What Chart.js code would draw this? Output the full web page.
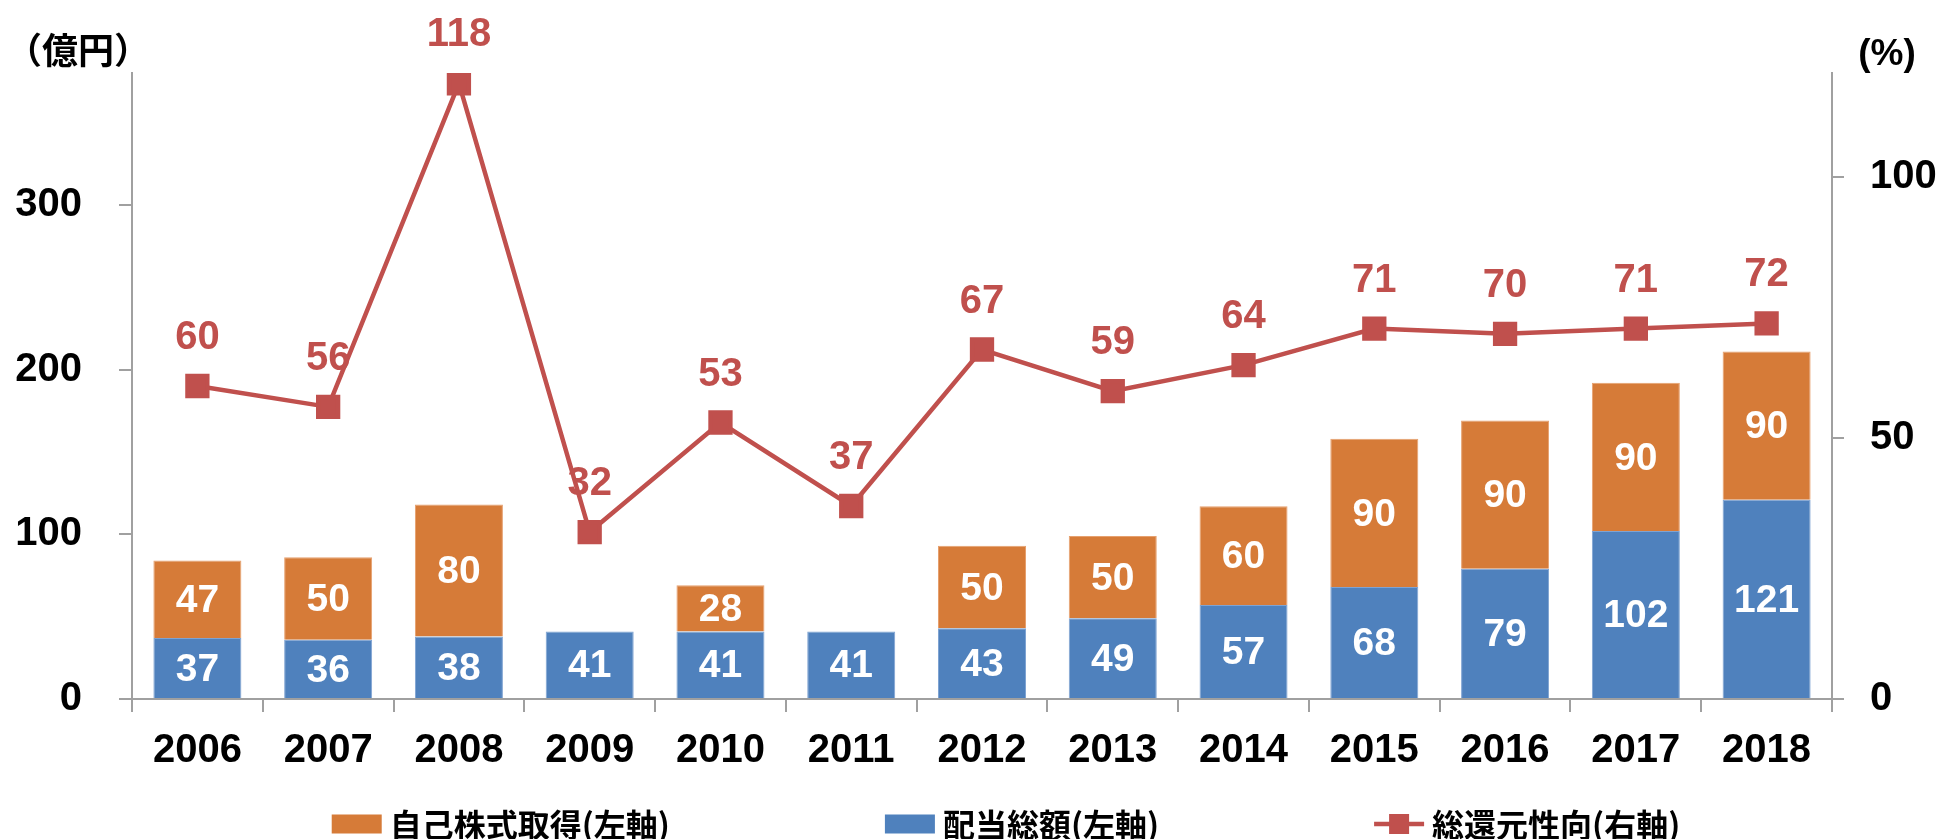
<!DOCTYPE html>
<html>
<head>
<meta charset="utf-8">
<script src="https://cdn.jsdelivr.net/npm/chart.js@4.4.1/dist/chart.umd.min.js"></script>
<style>
  html, body { margin: 0; padding: 0; background: #fff; }
</style>
</head>
<body>
<canvas id="chart" width="1943" height="839"></canvas>
<script>
const years = ['2006', '2007', '2008', '2009', '2010', '2011', '2012', '2013', '2014', '2015', '2016', '2017', '2018'];
const dividends = [37, 36, 38, 41, 41, 41, 43, 49, 57, 68, 79, 102, 121];
const buybacks = [47, 50, 80, null, 28, null, 50, 50, 60, 90, 90, 90, 90];
const payoutRatio = [60, 56, 118, 32, 53, 37, 67, 59, 64, 71, 70, 71, 72];
const leftTicks = [0, 100, 200, 300];
const rightTicks = [0, 50, 100];

const BLUE = '#4f81bd';
const ORANGE = '#d67b38';
const RED = '#c0504d';
const AXIS = '#a0a0a0';
const NUM_FONT = '"Liberation Sans", Arial, sans-serif';
const CJK_FONT = '"Noto Sans CJK JP", "Noto Sans CJK SC", sans-serif';

Chart.defaults.font.family = NUM_FONT;
Chart.defaults.color = '#000';

// value labels: white inside the bars, red above the line points
const valueLabels = {
  id: 'valueLabels',
  afterDatasetsDraw(chart) {
    const ctx = chart.ctx;
    ctx.save();
    ctx.textAlign = 'center';
    ctx.textBaseline = 'middle';
    chart.data.datasets.forEach((ds, i) => {
      const meta = chart.getDatasetMeta(i);
      meta.data.forEach((el, j) => {
        const v = ds.data[j];
        if (v == null) return;
        if (ds.type === 'line') {
          ctx.font = 'bold 40px ' + NUM_FONT;
          ctx.fillStyle = RED;
          ctx.fillText(v, el.x, el.y - 48);
        } else {
          ctx.font = 'bold 39px ' + NUM_FONT;
          ctx.fillStyle = '#fff';
          ctx.fillText(v, el.x, (el.y + el.base) / 2 + 2);
        }
      });
    });
    ctx.restore();
  }
};

// unit titles above both y axes
const axisTitles = {
  id: 'axisTitles',
  afterDraw(chart) {
    const { ctx, chartArea } = chart;
    ctx.save();
    ctx.fillStyle = '#000';
    ctx.textAlign = 'center';
    ctx.textBaseline = 'middle';
    ctx.font = 'bold 36px ' + CJK_FONT;
    ctx.fillText('（億円）', chartArea.left - 54, chartArea.top - 23);
    ctx.font = 'bold 37px ' + NUM_FONT;
    ctx.fillText('(%)', chartArea.right + 55, chartArea.top - 18);
    ctx.restore();
  }
};

// legend drawn by hand so the wide gaps between entries fit
const legendOrder = [1, 0, 2];
const bottomLegend = {
  id: 'bottomLegend',
  afterDraw(chart) {
    const { ctx, chartArea } = chart;
    const boxW = 50, boxH = 19, gapText = 8, gapItem = 215;
    const y = 824;
    ctx.save();
    ctx.font = 'bold 32px ' + CJK_FONT;
    ctx.textBaseline = 'middle';
    const items = legendOrder.map(i => chart.data.datasets[i]);
    const widths = items.map(ds => boxW + gapText + ctx.measureText(ds.label).width);
    const total = widths.reduce((a, b) => a + b, 0) + gapItem * (items.length - 1);
    let x = (chartArea.left + chartArea.right) / 2 + 24 - total / 2;
    items.forEach((ds, k) => {
      if (ds.type === 'line') {
        ctx.strokeStyle = RED;
        ctx.lineWidth = 4.5;
        ctx.beginPath();
        ctx.moveTo(x, y);
        ctx.lineTo(x + boxW, y);
        ctx.stroke();
        ctx.fillStyle = RED;
        ctx.fillRect(x + boxW / 2 - 10, y - 10, 20, 20);
      } else {
        ctx.fillStyle = ds.backgroundColor;
        ctx.fillRect(x, y - boxH / 2, boxW, boxH);
      }
      ctx.fillStyle = '#000';
      ctx.textAlign = 'left';
      ctx.fillText(ds.label, x + boxW + gapText, y + 1);
      x += widths[k] + gapItem;
    });
    ctx.restore();
  }
};

new Chart(document.getElementById('chart'), {
  type: 'bar',
  data: {
    labels: years,
    datasets: [
      {
        label: '配当総額(左軸)',
        data: dividends,
        backgroundColor: BLUE,
        borderColor: '#7fa3d2',
        borderWidth: 1,
        yAxisID: 'y',
        stack: 'total',
        order: 1
      },
      {
        label: '自己株式取得(左軸)',
        data: buybacks,
        backgroundColor: ORANGE,
        borderColor: '#e6a06e',
        borderWidth: 1,
        yAxisID: 'y',
        stack: 'total',
        order: 1
      },
      {
        type: 'line',
        label: '総還元性向(右軸)',
        data: payoutRatio,
        borderColor: RED,
        backgroundColor: RED,
        borderWidth: 4.5,
        pointStyle: 'rect',
        pointRadius: 14,
        pointHoverRadius: 14,
        tension: 0,
        yAxisID: 'y1',
        order: 0
      }
    ]
  },
  options: {
    responsive: false,
    animation: false,
    events: [],
    datasets: { bar: { categoryPercentage: 1, barPercentage: 0.673 } },
    layout: { padding: { left: 15, right: 6, top: 73, bottom: 64 } },
    plugins: {
      legend: { display: false },
      tooltip: { enabled: false }
    },
    scales: {
      x: {
        stacked: true,
        afterFit: s => { s.height = 76; },
        grid: { offset: true, drawOnChartArea: false, drawTicks: true, tickLength: 13, color: AXIS, lineWidth: 2 },
        border: { color: AXIS, width: 2 },
        ticks: { font: { size: 40, weight: 'bold' }, color: '#000', padding: 15, maxRotation: 0 }
      },
      y: {
        stacked: true,
        position: 'left',
        min: 0,
        max: 380,
        afterBuildTicks: s => { s.ticks = leftTicks.map(v => ({ value: v })); },
        afterFit: s => { s.width = 117; },
        grid: { drawOnChartArea: false, tickLength: 13, color: AXIS, lineWidth: 2 },
        border: { color: AXIS, width: 2 },
        ticks: { font: { size: 40, weight: 'bold' }, color: '#000', padding: 37 }
      },
      y1: {
        position: 'right',
        min: 0,
        max: 120,
        afterBuildTicks: s => { s.ticks = rightTicks.map(v => ({ value: v })); },
        afterFit: s => { s.width = 105; },
        grid: { drawOnChartArea: false, tickLength: 12, color: AXIS, lineWidth: 2 },
        border: { color: AXIS, width: 2 },
        ticks: { font: { size: 40, weight: 'bold' }, color: '#000', padding: 26 }
      }
    }
  },
  plugins: [valueLabels, axisTitles, bottomLegend]
});
</script>
</body>
</html>
